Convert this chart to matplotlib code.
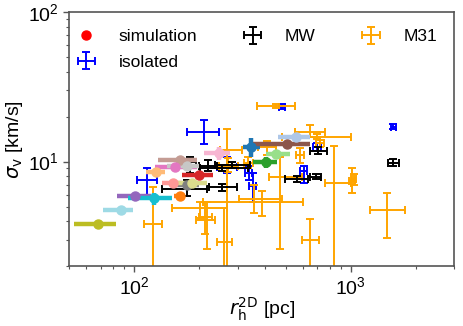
import matplotlib
matplotlib.use("Agg")
import matplotlib.pyplot as plt
from matplotlib.lines import Line2D
import numpy as np

plt.rcParams['font.family'] = ['Liberation Sans', 'DejaVu Sans']
plt.rcParams['mathtext.fontset'] = 'dejavusans'

# ---------------- simulation (tab20 colours) ----------------
sim_colors = ['#1f77b4', '#aec7e8', '#ff7f0e', '#ffbb78', '#2ca02c', '#98df8a',
              '#d62728', '#ff9896', '#9467bd', '#8c564b', '#c49c94',
              '#e377c2', '#f7b6d2', '#7f7f7f', '#c7c7c7', '#bcbd22', '#dbdb8d',
              '#17becf', '#9edae5']
sim_x   = [347, 560, 162, 126, 407, 453, 200, 151, 100.6, 507, 163.5, 155, 245, 175, 175.5, 68.3, 185, 123, 86.5]
sim_xlo = [319, 462, 152, 113, 355, 407, 167, 135, 83.5, 355, 129, 125, 209, 150, 142, 53.0, 150, 94, 72]
sim_xhi = [382, 649, 172, 139, 456, 525, 232, 166, 120, 649, 195, 195, 278, 200, 199, 82.6, 217, 150, 99]
sim_y   = [12.6, 14.55, 5.84, 8.45, 9.91, 11.26, 8.15, 7.18, 5.84, 13.12, 10.26, 9.26, 11.37, 6.99, 9.36, 3.83, 7.24, 5.70, 4.76]
sim_ylo = [10.8, 14.55, 5.84, 8.45, 9.04, 10.9, 8.15, 7.18, 5.84, 13.12, 10.26, 9.26, 10.26, 6.99, 8.9, 3.83, 7.24, 5.14, 4.76]
sim_yhi = [14.3, 14.55, 5.84, 8.45, 10.8, 11.6, 8.15, 7.18, 5.84, 13.12, 10.26, 9.26, 12.59, 6.99, 9.9, 3.83, 7.24, 6.16, 4.76]

# ---------------- isolated ----------------
iso_x   = [1572, 481, 209, 114, 697, 605, 352, 337, 268]
iso_xlo = [1530, 465, 175, 103, 670, 585, 340, 325, 241]
iso_xhi = [1620, 497, 245, 128, 725, 625, 365, 350, 298]
iso_y   = [17.1, 23.3, 15.85, 7.55, 12.6, 8.58, 6.81, 8.37, 9.26]
iso_ylo = [16.4, 22.5, 13.1, 6.0, 11.8, 7.24, 5.33, 7.5, 8.4]
iso_yhi = [17.8, 24.1, 18.9, 9.04, 13.4, 9.36, 8.37, 9.3, 10.8]

# ---------------- MW ----------------
mw_x   = [1572, 709, 692, 564, 254, 175, 181.6, 220, 255, 284]
mw_xlo = [1490, 650, 650, 497, 221, 134.5, 172, 200, 202, 237]
mw_xhi = [1660, 775, 730, 636, 298, 217, 192, 240, 336, 343]
mw_y   = [9.85, 11.8, 7.94, 7.64, 6.74, 6.58, 10.0, 9.36, 9.08, 9.5]
mw_ylo = [9.36, 11.2, 7.6, 7.3, 6.4, 5.85, 8.36, 8.6, 8.7, 9.1]
mw_yhi = [10.36, 12.5, 8.3, 8.0, 7.1, 7.55, 10.8, 10.2, 9.5, 9.9]

# ---------------- M31 ----------------
m31_x   = [451, 650, 700, 722, 838, 1011, 1030, 1465, 650, 469, 389, 359, 268, 202, 217, 261, 122, 336, 410, 584, 213, 270]
m31_xlo = [369, 554, 480, 690, 761, 980, 1000, 1230, 594, 417, 303, 208, 250, 150, 192, 241, 111.5, 320, 372, 560, 200, 245]
m31_xhi = [553, 760, 1000, 755, 1000, 1040, 1060, 1775, 716, 595, 481, 604, 315, 268, 237, 283, 134.5, 352, 450, 610, 228, 300]
m31_y   = [23.6, 15.85, 14.7, 13.3, 7.24, 7.36, 7.6, 4.71, 3.0, 7.94, 5.61, 5.33, 11.97, 4.89, 4.08, 2.88, 3.83, 9.8, 12.6, 11.06, 4.27, 9.4]
m31_ylo = [22.8, 14.7, 14.2, 12.6, 1.5, 6.16, 7.0, 3.09, 1.9, 2.6, 4.29, 4.52, 1.5, 4.2, 2.6, 1.5, 1.5, 9.0, 11.1, 9.8, 3.3, 8.5]
m31_yhi = [24.4, 17.6, 15.2, 14.0, 12.7, 9.03, 8.3, 6.16, 4.13, 10.8, 6.31, 6.99, 16.4, 5.4, 5.4, 4.9, 6.74, 10.8, 13.7, 12.3, 5.4, 10.5]


def errs(v, lo, hi):
    v, lo, hi = np.asarray(v, float), np.asarray(lo, float), np.asarray(hi, float)
    return np.vstack([v - lo, hi - v])


fig = plt.figure(figsize=(4.63, 3.26), dpi=100)
ax = fig.add_axes([0.149, 0.184, 0.832, 0.779])

obs_kw = dict(fmt='none', elinewidth=1.4, capsize=3, capthick=1.4)
h_iso = ax.errorbar(iso_x, iso_y, xerr=errs(iso_x, iso_xlo, iso_xhi),
                    yerr=errs(iso_y, iso_ylo, iso_yhi), ecolor='blue', label='isolated', **obs_kw)
h_m31 = ax.errorbar(m31_x, m31_y, xerr=errs(m31_x, m31_xlo, m31_xhi),
                    yerr=errs(m31_y, m31_ylo, m31_yhi), ecolor='orange', label='M31', **obs_kw)
h_mw = ax.errorbar(mw_x, mw_y, xerr=errs(mw_x, mw_xlo, mw_xhi),
                   yerr=errs(mw_y, mw_ylo, mw_yhi), ecolor='black', label='MW', **obs_kw)

for i, c in enumerate(sim_colors):
    ax.errorbar([sim_x[i]], [sim_y[i]],
                xerr=errs([sim_x[i]], [sim_xlo[i]], [sim_xhi[i]]),
                yerr=errs([sim_y[i]], [sim_ylo[i]], [sim_yhi[i]]),
                fmt='o', color=c, ms=6.5, elinewidth=3.2, capsize=0, zorder=5)

h_sim = Line2D([], [], marker='o', color='red', ls='none', ms=6.5)

ax.set_xscale('log')
ax.set_yscale('log')
ax.set_xlim(50, 3000)
ax.set_ylim(2, 100)

ax.set_xlabel(r'$r_{\rm h}^{\rm 2D}$ [pc]', fontsize=14, labelpad=-2)
ax.set_ylabel(r'$\sigma_{\rm v}$ [km/s]', fontsize=14, labelpad=2)
ax.tick_params(axis='both', which='major', labelsize=14, length=4, color='#555555', width=1)
ax.tick_params(axis='both', which='minor', length=2.5, color='#555555', width=0.8)
for s in ax.spines.values():
    s.set_color('#555555')
    s.set_linewidth(1.2)

ax.legend([h_sim, h_iso, h_mw, h_m31], ['simulation', 'isolated', 'MW', 'M31'],
          loc='upper left', bbox_to_anchor=(0.0, 0.96), ncol=3, frameon=False,
          fontsize=12.5, handlelength=1.2, handletextpad=1.25, columnspacing=2.6,
          labelspacing=0.6, borderaxespad=0.0)

fig.savefig('out.png', dpi=100)
